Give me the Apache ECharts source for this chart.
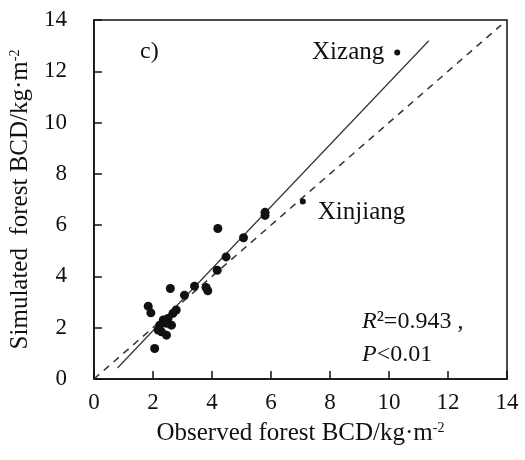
<!DOCTYPE html>
<html>
<head>
<meta charset="utf-8">
<script src="https://cdn.jsdelivr.net/npm/echarts@6/dist/echarts.min.js"></script>
<style>
  html, body { margin: 0; padding: 0; background: #fff; }
  #chart { width: 525px; height: 460px; }
</style>
</head>
<body>
<div id="chart"></div>
<script>
// observed (x) vs simulated (y) forest BCD
const observed = [4.2, 5.8, 5.8, 5.07, 4.48, 4.18, 2.59, 3.41, 3.8, 3.86, 3.07, 1.84, 1.93,
  2.79, 2.68, 2.51, 2.35, 2.23, 2.18, 2.29, 2.46, 2.63, 2.46, 2.06]
const simulated = [5.87, 6.5, 6.38, 5.51, 4.76, 4.24, 3.53, 3.62, 3.57, 3.44, 3.27, 2.84, 2.58,
  2.69, 2.56, 2.36, 2.3, 2.1, 1.91, 1.84, 1.71, 2.1, 2.17, 1.19]

// labelled provinces
const namedSites = ['Xizang', 'Xinjiang']
const namedObserved = [10.28, 7.08]
const namedSimulated = [12.73, 6.92]

// fitted line ends and the 1:1 line ends
const fitX = [0.8, 11.35]
const fitY = [0.43, 13.19]
const oneToOne = [0, 13.8]

const axisTicks = [0, 2, 4, 6, 8, 10, 12, 14]

const chart = echarts.init(document.getElementById('chart'))
const font = '"Liberation Serif", "Times New Roman", serif'
const ink = '#111'

function axisBase(name, gap) {
  return {
    type: 'value',
    min: axisTicks[0],
    max: axisTicks[axisTicks.length - 1],
    interval: 2,
    name: name,
    nameLocation: 'middle',
    nameGap: gap,
    nameTextStyle: {
      fontFamily: font, fontSize: 25, color: ink,
      rich: { sup: { fontFamily: font, fontSize: 14, color: ink, verticalAlign: 'top', padding: [0, 0, 11, 0] } }
    },
    axisLine: { show: true, lineStyle: { color: ink, width: 1.5 } },
    axisTick: { show: true, inside: true, length: 8, lineStyle: { color: ink, width: 1.5 } },
    axisLabel: { fontFamily: font, fontSize: 23, color: ink },
    splitLine: { show: false }
  }
}

const xAxis = axisBase('Observed forest BCD/kg·m{sup|-2}', 42)
xAxis.axisLabel.margin = 12
const yAxis = axisBase('Simulated  forest BCD/kg·m{sup|-2}', 50)
yAxis.axisLabel.margin = 27

chart.setOption({
  animation: false,
  grid: {
    left: 92, right: 18, top: 20, bottom: 81,
    show: true, borderColor: ink, borderWidth: 1.5, backgroundColor: 'transparent'
  },
  xAxis: xAxis,
  yAxis: yAxis,
  series: [
    {
      name: '1:1',
      type: 'line',
      data: [[oneToOne[0], oneToOne[0]], [oneToOne[1], oneToOne[1]]],
      symbol: 'none',
      lineStyle: { color: '#333', width: 1.5, type: [7, 6] },
      z: 1
    },
    {
      name: 'fit',
      type: 'line',
      data: [[fitX[0], fitY[0]], [fitX[1], fitY[1]]],
      symbol: 'none',
      lineStyle: { color: '#333', width: 1.2 },
      z: 1
    },
    {
      name: 'sites',
      type: 'scatter',
      data: observed.map((v, i) => [v, simulated[i]]),
      symbolSize: 9,
      itemStyle: { color: '#111', opacity: 1 },
      z: 3
    },
    {
      name: 'named',
      type: 'scatter',
      data: namedObserved.map((v, i) => ({
        value: [v, namedSimulated[i]],
        name: namedSites[i],
        label: i === 0
          ? { position: 'left', distance: 10 }
          : { position: 'right', distance: 12, offset: [0, 11] }
      })),
      symbolSize: 6,
      itemStyle: { color: '#111', opacity: 1 },
      label: {
        show: true,
        formatter: p => p.name,
        fontFamily: font, fontSize: 25, color: ink
      },
      z: 3
    }
  ],
  graphic: [
    {
      type: 'text', left: 140, top: 40,
      style: { text: 'c)', font: '24px ' + font, fill: ink }
    },
    {
      type: 'text', left: 362, top: 305,
      style: {
        text: '{it|R}²=0.943 ,\n{it|P}<0.01',
        font: '24px ' + font, fill: ink, lineHeight: 33,
        rich: {
          it: { font: 'italic 24px ' + font, fill: ink }
        }
      }
    }
  ]
})
</script>
</body>
</html>
